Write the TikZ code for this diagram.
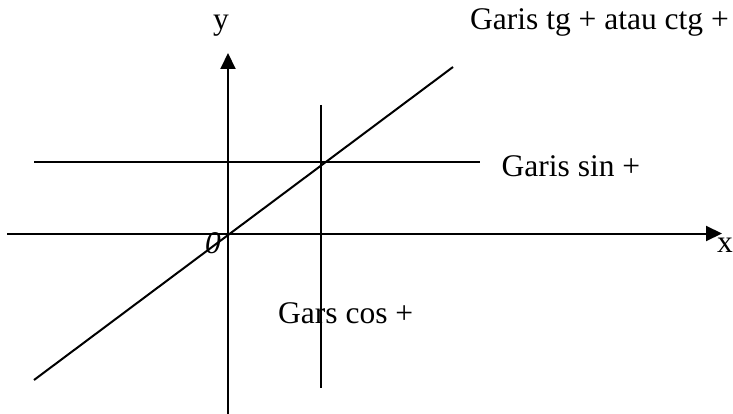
\documentclass[tikz,border=0pt]{standalone}
\usepackage{fontspec}
\setmainfont{Liberation Serif}
\usetikzlibrary{arrows.meta}
\begin{document}
\begin{tikzpicture}[x=1pt,y=-1pt,
  ln/.style={line width=2pt,line cap=butt},
  axis/.style={ln,-{Triangle[length=16pt,width=15pt]}},
  lbl/.style={inner sep=0pt,anchor=base west,font=\fontsize{31.5}{36}\selectfont}]
\useasboundingbox (0,0) rectangle (733,414);
% coordinates
\coordinate (xl) at (7,233.5);
\coordinate (xr) at (722,233.5);
\coordinate (yb) at (228,414);
\coordinate (yt) at (228,53);
\coordinate (sl) at (34,162.5);
\coordinate (sr) at (480,162.5);
\coordinate (ct) at (321,105);
\coordinate (cb) at (321,388);
\coordinate (dl) at (34,380);
\coordinate (dr) at (453,67);
% lines
\draw[axis] (xl) -- (xr);
\draw[axis] (yb) -- (yt);
\draw[ln] (sl) -- (sr);
\draw[ln] (ct) -- (cb);
\draw[ln] (dl) -- (dr);
% labels
\node[lbl] (ylab) at (213,30) {y};
\node[lbl] (xlab) at (717,252) {x};
\node[lbl,anchor=base] (olab) at (213,253) {\itshape 0};
\node[lbl] (tg) at (470,30) {Garis tg + atau ctg +};
\node[lbl] (sin) at (501.5,177) {Garis sin +};
\node[lbl] (cos) at (278,323) {Gars cos +};
\end{tikzpicture}
\end{document}
